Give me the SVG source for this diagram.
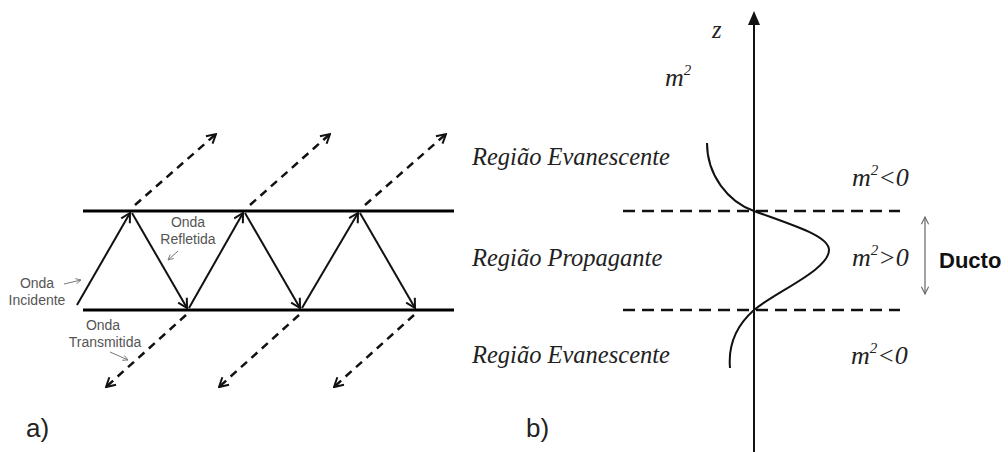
<svg xmlns="http://www.w3.org/2000/svg" width="1008" height="452" viewBox="0 0 1008 452">
<style>
.lbl{font-family:"Liberation Sans",Arial,sans-serif;font-size:14px;fill:#555}
.it{font-family:"Liberation Serif","Times New Roman",serif;font-style:italic;font-size:24.5px;fill:#222}
.m{font-size:26px}
.sup{font-size:15px}
.cap{font-family:"Liberation Sans",Arial,sans-serif;font-size:26px;fill:#222}
.thick{stroke:#000;stroke-width:3;fill:none}
.ray{stroke:#111;stroke-width:2;fill:none;marker-end:url(#v)}
.dray{stroke:#111;stroke-width:2.5;fill:none;stroke-dasharray:8 6;marker-end:url(#v)}
.small{stroke:#777;stroke-width:1;fill:none;marker-end:url(#vs)}
.dline{stroke:#111;stroke-width:2.5;fill:none;stroke-dasharray:12 7}
</style>
<defs>
<marker id="v" viewBox="0 0 12 12" refX="11" refY="6" markerWidth="12" markerHeight="12" markerUnits="userSpaceOnUse" orient="auto">
<path d="M2,1 L11,6 L2,11" fill="none" stroke="#111" stroke-width="2"/>
</marker>
<marker id="vs" viewBox="0 0 8 8" refX="7" refY="4" markerWidth="7" markerHeight="7" markerUnits="userSpaceOnUse" orient="auto">
<path d="M1,1 L7,4 L1,7" fill="none" stroke="#777" stroke-width="1"/>
</marker>
<marker id="g" viewBox="0 0 10 10" refX="9" refY="5" markerWidth="9" markerHeight="9" markerUnits="userSpaceOnUse" orient="auto">
<path d="M1,1 L9,5 L1,9" fill="none" stroke="#666" stroke-width="1.2"/>
</marker>
</defs>
<rect width="1008" height="452" fill="#fff"/>

<g id="layers">
<line class="thick" x1="83" y1="211" x2="454" y2="211"/>
<line class="thick" x1="83" y1="310" x2="454" y2="310"/>
</g>

<g id="connectors">
<line class="ray" x1="77" y1="305" x2="130" y2="213"/>
<line class="ray" x1="132" y1="213" x2="187" y2="308"/>
<line class="ray" x1="189" y1="308" x2="243" y2="213"/>
<line class="ray" x1="245" y1="213" x2="300" y2="308"/>
<line class="ray" x1="302" y1="308" x2="358" y2="213"/>
<line class="ray" x1="360" y1="213" x2="415" y2="308"/>
<line class="dray" x1="135" y1="205" x2="216" y2="134"/>
<line class="dray" x1="250" y1="205" x2="330" y2="134"/>
<line class="dray" x1="365" y1="205" x2="446" y2="134"/>
<line class="dray" x1="186" y1="315" x2="106" y2="387"/>
<line class="dray" x1="299" y1="315" x2="219" y2="387"/>
<line class="dray" x1="414" y1="315" x2="334" y2="387"/>
<line class="small" x1="64" y1="284" x2="81" y2="280"/>
<line class="small" x1="178" y1="251" x2="168" y2="260"/>
<line class="small" x1="110" y1="352" x2="128" y2="360"/>
</g>

<g id="label-incidente">
<text class="lbl" x="37" y="288" text-anchor="middle">Onda</text>
<text class="lbl" x="37" y="305" text-anchor="middle">Incidente</text>
</g>
<g id="label-refletida">
<text class="lbl" x="188" y="227" text-anchor="middle">Onda</text>
<text class="lbl" x="188" y="244" text-anchor="middle">Refletida</text>
</g>
<g id="label-transmitida">
<text class="lbl" x="103" y="330" text-anchor="middle">Onda</text>
<text class="lbl" x="105" y="347" text-anchor="middle">Transmitida</text>
</g>
<text class="cap" x="26" y="437">a)</text>

<g id="axis">
<line x1="754" y1="452" x2="754" y2="24" stroke="#111" stroke-width="2"/>
<path d="M754,11 L748,25 L760,25 Z" fill="#111"/>
<text class="it" x="712" y="38">z</text>
<text class="it m" x="665" y="86">m<tspan class="sup" dy="-11">2</tspan></text>
</g>

<g id="boundaries">
<line class="dline" x1="623" y1="211" x2="900" y2="211"/>
<line class="dline" x1="623" y1="310" x2="900" y2="310"/>
</g>

<g id="profile">
<path d="M707,143 C707,175 728,202 754,211 C795,226 829,236 829,250 C829,270 775,292 754,310 C737,325 728,345 730,368" fill="none" stroke="#111" stroke-width="2"/>
</g>

<g id="region-top">
<text class="it" x="472" y="165">Região Evanescente</text>
<text class="it m" x="852" y="186">m<tspan class="sup" dy="-11">2</tspan><tspan dy="11">&lt;0</tspan></text>
</g>
<g id="region-mid">
<text class="it" x="472" y="266">Região Propagante</text>
<text class="it m" x="852" y="266">m<tspan class="sup" dy="-11">2</tspan><tspan dy="11">&gt;0</tspan></text>
</g>
<g id="region-bot">
<text class="it" x="472" y="363">Região Evanescente</text>
<text class="it m" x="851" y="364">m<tspan class="sup" dy="-11">2</tspan><tspan dy="11">&lt;0</tspan></text>
</g>

<g id="ducto">
<line x1="925" y1="226" x2="925" y2="217" stroke="#666" stroke-width="1.2" marker-end="url(#g)"/>
<line x1="925" y1="226" x2="925" y2="294" stroke="#666" stroke-width="1.2" marker-end="url(#g)"/>
<text x="939" y="268" style="font-family:'Liberation Sans',Arial,sans-serif;font-weight:bold;font-size:22px;fill:#111">Ducto</text>
</g>
<text class="cap" x="526" y="437">b)</text>
</svg>
